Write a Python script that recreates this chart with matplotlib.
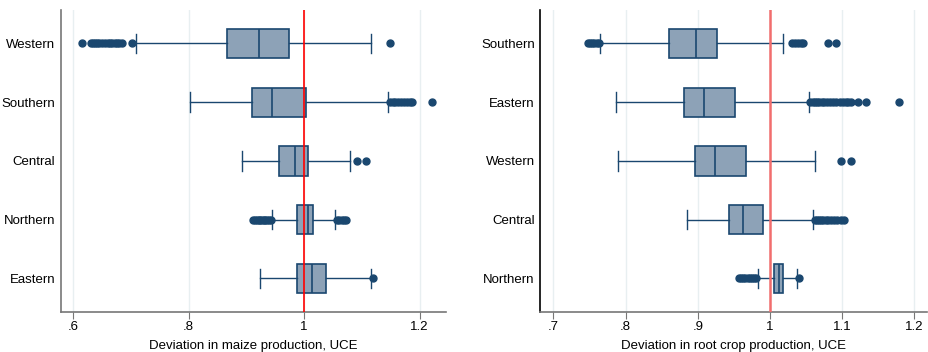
import matplotlib
matplotlib.use("Agg")
import matplotlib.pyplot as plt

plt.rcParams['font.family'] = ['Liberation Sans', 'DejaVu Sans']

# maize panel, top to bottom
maize_regions = ["Western", "Southern", "Central", "Northern", "Eastern"]
maize_whislo = [0.709, 0.803, 0.893, 0.945, 0.923]
maize_q1 = [0.867, 0.909, 0.957, 0.988, 0.987]
maize_med = [0.922, 0.945, 0.985, 1.006, 1.014]
maize_q3 = [0.973, 1.003, 1.006, 1.016, 1.038]
maize_whishi = [1.116, 1.146, 1.080, 1.054, 1.116]
maize_fliers = [
    [0.615, 0.631, 0.635, 0.638, 0.641, 0.645, 0.650, 0.655, 0.660, 0.664,
     0.668, 0.672, 0.676, 0.680, 0.684, 0.702, 1.148],
    [1.148, 1.153, 1.158, 1.163, 1.168, 1.173, 1.178, 1.183, 1.187, 1.222],
    [1.091, 1.107],
    [0.912, 0.915, 0.918, 0.921, 0.924, 0.927, 0.930, 0.933, 0.936, 0.939,
     0.942, 1.057, 1.061, 1.065, 1.069, 1.072],
    [1.120],
]
maize_ticks = [0.6, 0.8, 1.0, 1.2]
maize_ticklabels = [".6", ".8", "1", "1.2"]

# root crop panel, top to bottom
root_regions = ["Southern", "Eastern", "Western", "Central", "Northern"]
root_whislo = [0.764, 0.787, 0.790, 0.885, 0.984]
root_q1 = [0.860, 0.881, 0.896, 0.943, 1.005]
root_med = [0.897, 0.908, 0.924, 0.962, 1.013]
root_q3 = [0.926, 0.951, 0.967, 0.990, 1.018]
root_whishi = [1.018, 1.054, 1.062, 1.060, 1.037]
root_fliers = [
    [0.748, 0.751, 0.754, 0.757, 0.760, 0.763, 1.031, 1.035, 1.039, 1.043,
     1.046, 1.080, 1.091],
    [1.056, 1.059, 1.062, 1.065, 1.068, 1.072, 1.075, 1.079, 1.083, 1.087,
     1.092, 1.097, 1.101, 1.105, 1.108, 1.112, 1.122, 1.133, 1.178],
    [1.098, 1.112],
    [1.062, 1.065, 1.068, 1.071, 1.074, 1.077, 1.080, 1.084, 1.088, 1.093,
     1.098, 1.103],
    [0.957, 0.960, 0.963, 0.966, 0.969, 0.972, 0.975, 0.978, 0.981, 1.040],
]
root_ticks = [0.7, 0.8, 0.9, 1.0, 1.1, 1.2]
root_ticklabels = [".7", ".8", ".9", "1", "1.1", "1.2"]

navy = "#1a476f"
fill = "#8da2b7"


def draw_panel(ax, regions, whislo, q1, med, q3, whishi, fliers,
               ticks, ticklabels, xlim, xlabel, refcolor, refwidth, spinecol):
    stats = []
    for i, r in enumerate(regions):
        stats.append(dict(label=r, whislo=whislo[i], q1=q1[i], med=med[i],
                          q3=q3[i], whishi=whishi[i], fliers=fliers[i]))
    pos = list(range(len(regions), 0, -1))
    ax.bxp(stats, positions=pos, vert=False, widths=0.5, patch_artist=True,
           boxprops=dict(facecolor=fill, edgecolor=navy, linewidth=1.2),
           medianprops=dict(color=navy, linewidth=1.2),
           whiskerprops=dict(color=navy, linewidth=1.0),
           capprops=dict(color=navy, linewidth=1.0),
           capwidths=0.33,
           flierprops=dict(marker='o', markerfacecolor=navy,
                           markeredgecolor=navy, markersize=5))
    ax.axvline(1.0, color=refcolor, linewidth=refwidth, zorder=5)
    ax.set_xlim(*xlim)
    ax.set_ylim(0.43, len(regions) + 0.57)
    ax.set_xticks(ticks)
    ax.set_xticklabels(ticklabels)
    ax.set_yticks(pos)
    ax.set_yticklabels(regions)
    ax.tick_params(axis='y', length=0, labelsize=9.5, pad=4)
    ax.tick_params(axis='x', length=5, labelsize=9.5, color='#777777', pad=2)
    ax.grid(axis='x', color='#e8eff1', linewidth=1.0)
    ax.set_axisbelow(True)
    ax.set_xlabel(xlabel, fontsize=9.5, labelpad=5)
    for s in ['top', 'right']:
        ax.spines[s].set_visible(False)
    ax.spines['bottom'].set_color('#777777')
    ax.spines['bottom'].set_linewidth(1.2)
    ax.spines['left'].set_color(spinecol)
    ax.spines['left'].set_linewidth(1.2)


fig = plt.figure(figsize=(9.29, 3.52), dpi=100)
ax1 = fig.add_axes([0.0657, 0.1145, 0.414, 0.857])
ax2 = fig.add_axes([0.5816, 0.1145, 0.416, 0.857])

draw_panel(ax1, maize_regions, maize_whislo, maize_q1, maize_med, maize_q3,
           maize_whishi, maize_fliers, maize_ticks, maize_ticklabels,
           (0.579, 1.245), "Deviation in maize production, UCE",
           "#ff0000", 1.2, "#777777")
draw_panel(ax2, root_regions, root_whislo, root_q1, root_med, root_q3,
           root_whishi, root_fliers, root_ticks, root_ticklabels,
           (0.682, 1.217), "Deviation in root crop production, UCE",
           "#f26d6d", 1.8, "#000000")

fig.savefig("out.png", dpi=100)
